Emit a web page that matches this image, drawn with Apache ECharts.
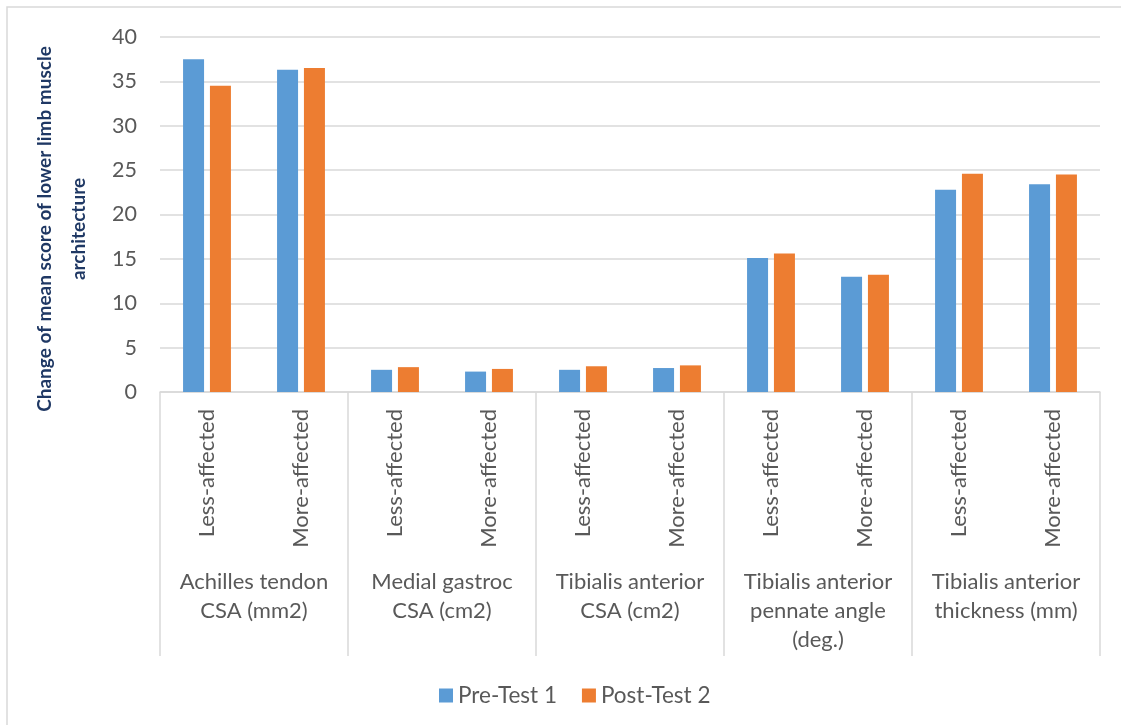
<!DOCTYPE html>
<html>
<head>
<meta charset="utf-8">
<script src="https://cdn.jsdelivr.net/npm/echarts@6/dist/echarts.min.js"></script>
<style>
  html, body { margin: 0; padding: 0; background: #ffffff; }
  #chart { width: 1121px; height: 725px; }
</style>
</head>
<body>
<div id="chart"></div>
<script>
// Measurement groups (outer axis level)
const groups = [
  'Achilles tendon\nCSA (mm2)',
  'Medial gastroc\nCSA (cm2)',
  'Tibialis anterior\nCSA (cm2)',
  'Tibialis anterior\npennate angle\n(deg.)',
  'Tibialis anterior\nthickness (mm)'
];
// Limb side within each group (inner axis level)
const categories = [
  'Less-affected', 'More-affected',
  'Less-affected', 'More-affected',
  'Less-affected', 'More-affected',
  'Less-affected', 'More-affected',
  'Less-affected', 'More-affected'
];
const preTest1  = [37.5, 36.3, 2.5, 2.3, 2.5, 2.7, 15.1, 13.0, 22.8, 23.4];
const postTest2 = [34.5, 36.5, 2.8, 2.6, 2.9, 3.0, 15.6, 13.2, 24.6, 24.5];
const yTicks = [0, 5, 10, 15, 20, 25, 30, 35, 40];
const yTitle = ['Change of mean score of lower limb muscle', 'architecture'];

const FONT = 'Lato, "Open Sans", sans-serif';
const TITLE_FONT = 'bold 19px Lato, sans-serif';
const TEXT = '#595959';
const GRID = '#d9d9d9';
const FS = 22;

const chart = echarts.init(document.getElementById('chart'), null, { renderer: 'canvas' });

chart.setOption({
  animation: false,
  backgroundColor: '#ffffff',
  textStyle: { fontFamily: FONT },
  color: ['#5B9BD5', '#ED7D31'],
  grid: { left: 160, right: 21, top: 37, bottom: 333, containLabel: false },
  legend: {
    data: ['Pre-Test 1', 'Post-Test 2'],
    left: 434,
    top: 679,
    itemWidth: 14,
    itemHeight: 14,
    itemGap: 25,
    icon: 'rect',
    textStyle: { color: TEXT, fontSize: 22.5, fontFamily: FONT }
  },
  graphic: [
    {
      type: 'rect',
      silent: true,
      shape: { x: 7, y: 7, width: 1300, height: 900 },
      style: { fill: 'none', stroke: GRID, lineWidth: 1.5 }
    },
    {
      type: 'text',
      silent: true,
      x: 45, y: 229,
      rotation: Math.PI / 2,
      style: {
        text: yTitle[0],
        fill: '#1F3864',
        font: TITLE_FONT,
        textAlign: 'center',
        textVerticalAlign: 'middle'
      }
    },
    {
      type: 'text',
      silent: true,
      x: 79, y: 229,
      rotation: Math.PI / 2,
      style: {
        text: yTitle[1],
        fill: '#1F3864',
        font: TITLE_FONT,
        textAlign: 'center',
        textVerticalAlign: 'middle'
      }
    }
  ],
  xAxis: [
    {
      type: 'category',
      data: categories,
      position: 'bottom',
      axisLine: { show: true, lineStyle: { color: GRID, width: 1.5 } },
      axisTick: { show: false },
      axisLabel: {
        interval: 0,
        rotate: 90,
        margin: 17,
        color: TEXT,
        fontSize: FS,
        fontFamily: FONT
      }
    },
    {
      type: 'category',
      data: groups,
      position: 'bottom',
      axisLine: { show: false },
      axisTick: {
        show: true,
        interval: 0,
        length: 264,
        lineStyle: { color: GRID, width: 1.5 }
      },
      axisLabel: {
        interval: 0,
        margin: 175,
        color: TEXT,
        fontSize: FS,
        fontFamily: FONT,
        lineHeight: 29,
        align: 'center'
      }
    }
  ],
  yAxis: {
    type: 'value',
    min: yTicks[0],
    max: yTicks[yTicks.length - 1],
    interval: yTicks[1] - yTicks[0],
    axisLine: { show: false },
    axisTick: { show: false },
    axisLabel: { color: TEXT, fontSize: 21.5, fontFamily: FONT, margin: 23 },
    splitLine: { lineStyle: { color: GRID, width: 1.5 } }
  },
  series: [
    {
      name: 'Pre-Test 1',
      type: 'bar',
      xAxisIndex: 0,
      data: preTest1,
      barWidth: 21,
      barGap: '28%',
      itemStyle: { color: '#5B9BD5' }
    },
    {
      name: 'Post-Test 2',
      type: 'bar',
      xAxisIndex: 0,
      data: postTest2,
      barWidth: 21,
      barGap: '28%',
      itemStyle: { color: '#ED7D31' }
    }
  ]
});
</script>
</body>
</html>
